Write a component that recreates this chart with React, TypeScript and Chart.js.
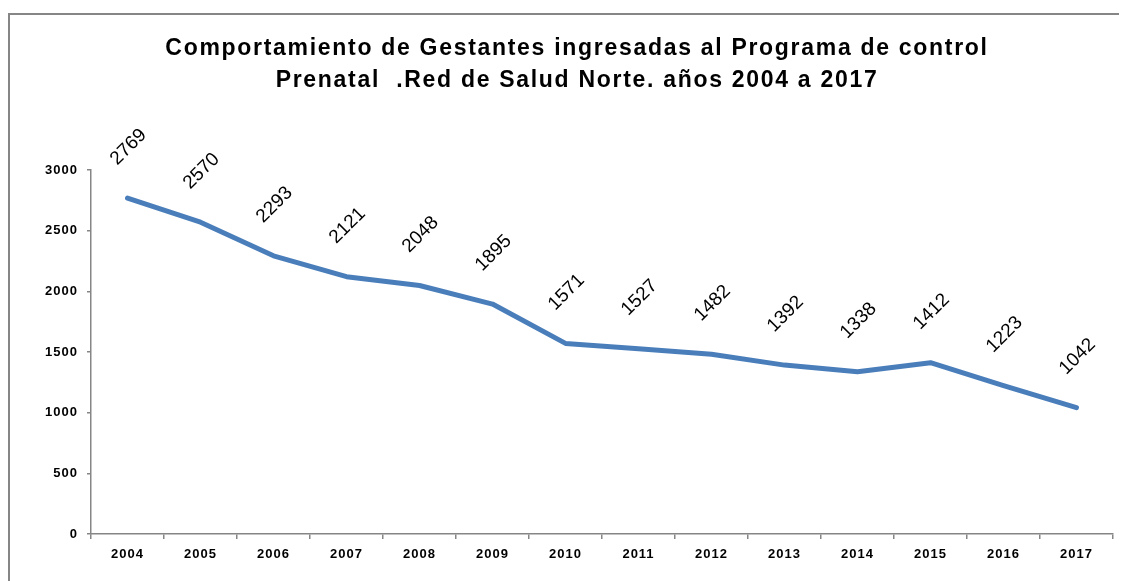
import React, { useEffect, useRef } from "react";
import { Chart, registerables } from "chart.js";

Chart.register(...registerables);

const years = ["2004", "2005", "2006", "2007", "2008", "2009", "2010", "2011", "2012", "2013", "2014", "2015", "2016", "2017"];
const gestantes = [2769, 2570, 2293, 2121, 2048, 1895, 1571, 1527, 1482, 1392, 1338, 1412, 1223, 1042];
const titleLines = [
  "Comportamiento de Gestantes ingresadas al Programa de control",
  "Prenatal  .Red de Salud Norte. años 2004 a 2017",
];

const FONT = "'Liberation Sans', Arial, sans-serif";

const framePlugin = {
  id: "frame",
  beforeDraw(chart: any) {
    const ctx = chart.ctx;
    ctx.save();
    ctx.fillStyle = "#ffffff";
    ctx.fillRect(0, 0, chart.width, chart.height);
    ctx.strokeStyle = "#868686";
    ctx.lineWidth = 2;
    ctx.beginPath();
    ctx.moveTo(1, chart.height + 5);
    ctx.lineTo(1, 6);
    ctx.lineTo(chart.width + 5, 6);
    ctx.stroke();
    ctx.restore();
    ctx.letterSpacing = "1px";
  },
};

const titlePlugin = {
  id: "customTitle",
  afterDraw(chart: any) {
    const ctx = chart.ctx;
    ctx.save();
    ctx.letterSpacing = "1.7px";
    ctx.fillStyle = "#000000";
    ctx.font = `bold 23px ${FONT}`;
    ctx.textAlign = "center";
    ctx.textBaseline = "middle";
    ctx.fillText(titleLines[0], 569, 41);
    ctx.fillText(titleLines[1], 569, 73);
    ctx.restore();
    ctx.letterSpacing = "0px";
  },
};

const labelPlugin = {
  id: "rotLabels",
  afterDatasetsDraw(chart: any) {
    const ctx = chart.ctx;
    const meta = chart.getDatasetMeta(0);
    ctx.save();
    ctx.letterSpacing = "0px";
    ctx.fillStyle = "#000000";
    ctx.font = `19px ${FONT}`;
    ctx.textAlign = "center";
    ctx.textBaseline = "middle";
    meta.data.forEach((pt: any, i: number) => {
      ctx.save();
      ctx.translate(pt.x + 1, pt.y - 51);
      ctx.rotate(-Math.PI / 4);
      ctx.fillText(String(gestantes[i]), 0, 0);
      ctx.restore();
    });
    ctx.restore();
  },
};

export default function App() {
  const ref = useRef<HTMLCanvasElement>(null);
  useEffect(() => {
    if (!ref.current) return;
    const chart = new Chart(ref.current, {
      type: "line",
      data: {
        labels: years,
        datasets: [
          {
            data: gestantes,
            borderColor: "#4A7EBB",
            borderWidth: 5,
            pointRadius: 0,
            borderCapStyle: "round",
            borderJoinStyle: "round",
            tension: 0,
            fill: false,
          },
        ],
      },
      options: {
        animation: false,
        responsive: false,
        maintainAspectRatio: false,
        layout: { padding: { top: 162, left: 0, right: 14, bottom: 0 } },
        plugins: { legend: { display: false }, title: { display: false }, tooltip: { enabled: false } },
        scales: {
          x: {
            offset: true,
            grid: { offset: true, drawOnChartArea: false, drawTicks: true, tickLength: 5, color: "#868686", lineWidth: 1.5 },
            border: { display: true, color: "#868686", width: 1.5 },
            ticks: { color: "#000000", font: { family: FONT, size: 13, weight: "bold" }, padding: 8, maxRotation: 0 },
            afterFit: (s: any) => { s.height = 47; },
          },
          y: {
            min: 0,
            max: 3000,
            grid: { drawOnChartArea: false, drawTicks: true, tickLength: 4, color: "#868686", lineWidth: 1.5 },
            border: { display: true, color: "#868686", width: 1.5 },
            ticks: {
              stepSize: 500,
              color: "#000000",
              font: { family: FONT, size: 13, weight: "bold" },
              padding: 9,
              callback: (v: any) => String(v),
            },
            afterFit: (s: any) => { s.width = 83; },
          },
        },
      },
      plugins: [framePlugin, titlePlugin, labelPlugin],
    } as any);
    return () => chart.destroy();
  }, []);
  return (
    <div style={{ width: 1119, height: 573 }}>
      <canvas ref={ref} width={1119} height={573} style={{ display: "block", width: 1119, height: 573 }} />
    </div>
  );
}
